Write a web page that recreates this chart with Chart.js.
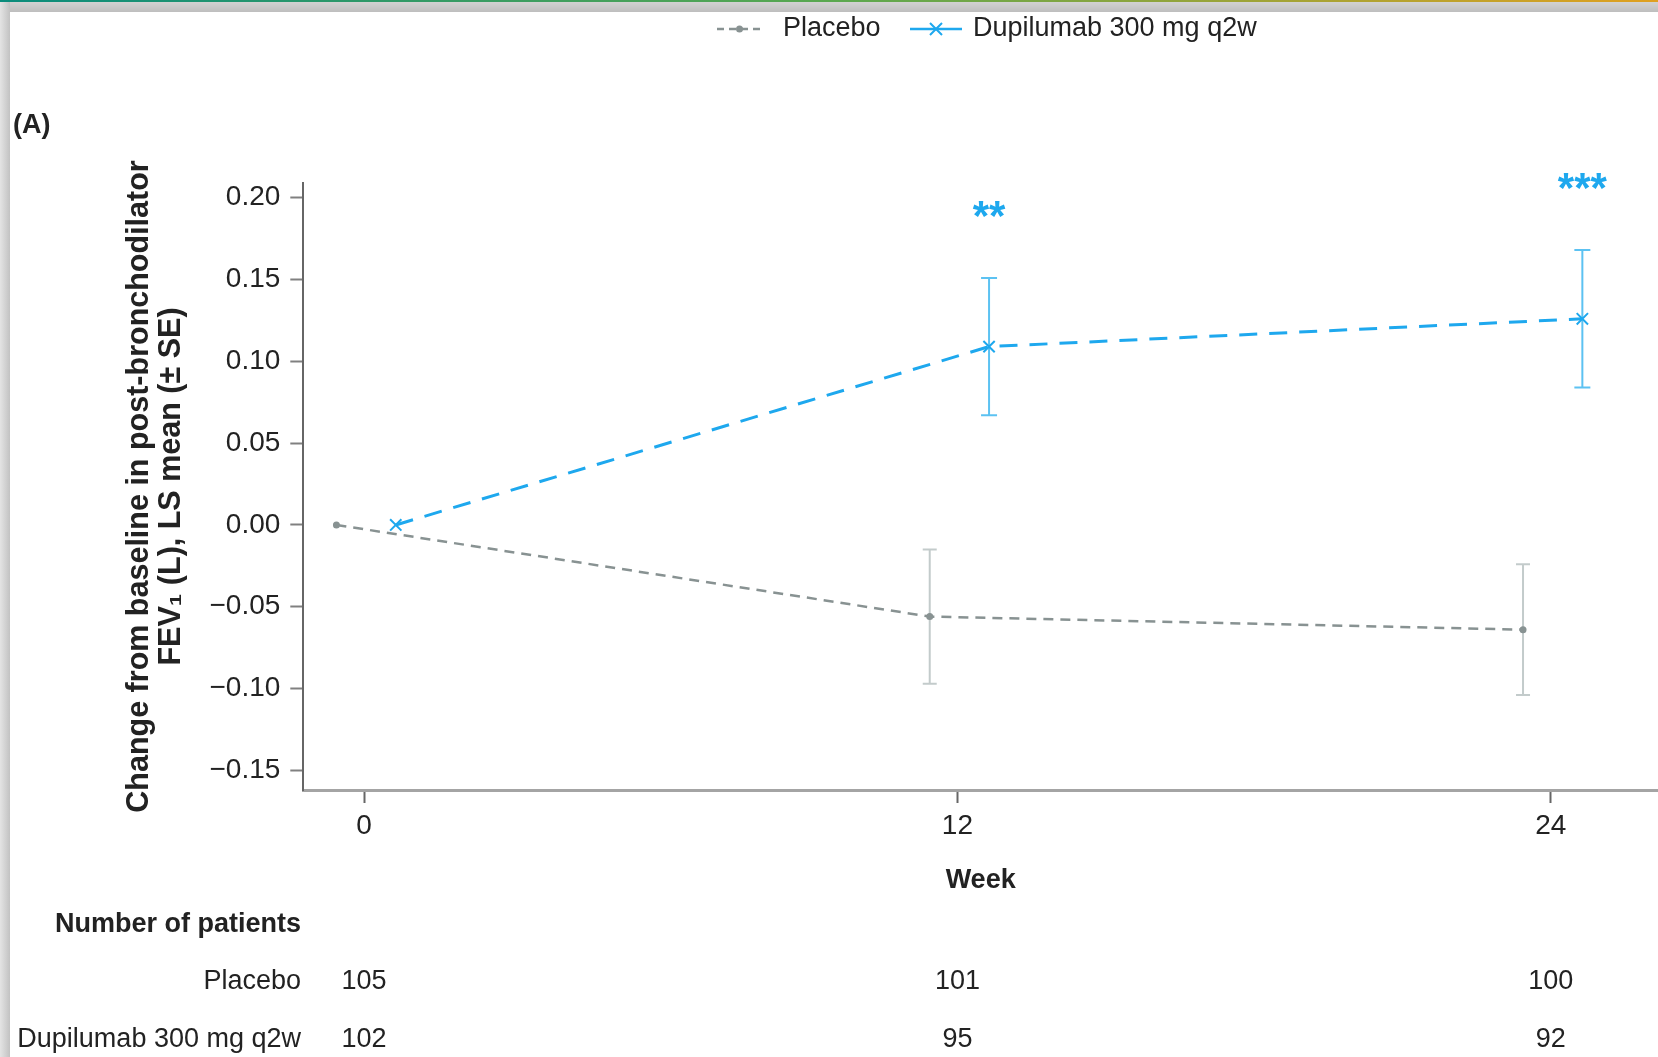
<!DOCTYPE html>
<html>
<head>
<meta charset="utf-8">
<script src="https://cdn.jsdelivr.net/npm/chart.js@4.4.1/dist/chart.umd.min.js"></script>
<style>
html,body{margin:0;padding:0;background:#fff;overflow:hidden;}
#wrap{position:absolute;left:0;top:0;width:1658px;height:1057px;overflow:hidden;background:#fff;}
#topbar{position:absolute;left:0;top:0;width:1658px;height:2px;background:linear-gradient(to right,#0b8c7c,#5aa850 50%,#e0a020);z-index:2;}
#topgray{position:absolute;left:0;top:2px;width:1658px;height:10px;background:linear-gradient(#d2d2d2,#bebebe);z-index:2;}
#leftgray{position:absolute;left:0;top:2px;width:10px;height:1055px;background:linear-gradient(to right,#e4e4e4,#c2c2c2);z-index:2;}
#chartbox{position:absolute;left:0;top:0;width:1668px;height:1057px;}
.lbl{position:absolute;font-family:'Liberation Sans',Arial,sans-serif;font-size:27px;line-height:32px;color:#222;white-space:nowrap;}
.b{font-weight:bold;}
</style>
</head>
<body>
<div id="wrap">
  <div id="topbar"></div>
  <div id="topgray"></div>
  <div id="leftgray"></div>
  <div id="chartbox"><canvas id="c"></canvas></div>
  <div class="lbl b" style="left:13px;top:108px;">(A)</div>
  <div class="lbl b" style="right:1357px;top:907px;text-align:right;">Number of patients</div>
  <div class="lbl" style="right:1357px;top:964px;text-align:right;">Placebo</div>
  <div class="lbl" style="right:1357px;top:1022px;text-align:right;">Dupilumab 300 mg q2w</div>
</div>
<script>
// ---- data ----
const weeks = [0, 12, 24];
const seriesNames = ['Placebo', 'Dupilumab 300 mg q2w'];
const placeboMean = [0.000, -0.056, -0.064];
const placeboSE   = [null, 0.041, 0.040];
const dupiMean    = [0.000, 0.109, 0.126];
const dupiSE      = [null, 0.042, 0.042];
const placeboN = [105, 101, 100];
const dupiN    = [102, 95, 92];
const significance = ['', '**', '***'];
const yTickValues = [-0.15, -0.10, -0.05, 0.00, 0.05, 0.10, 0.15, 0.20];

// ---- styles ----
const FONT = "'Liberation Sans', Arial, sans-serif";
const GREY = '#889292';
const GREY_ERR = '#c3cbcb';
const BLUE = '#1ea8ee';
const BLUE_ERR = '#5cc2f2';
const DODGE = [-0.56, 0.64];

const series = [
  {mean: placeboMean, se: placeboSE, dodge: DODGE[0], err: GREY_ERR, cap: 7},
  {mean: dupiMean, se: dupiSE, dodge: DODGE[1], err: BLUE_ERR, cap: 8}
];

const overlay = {
  id: 'overlay',
  beforeDatasetsDraw(chart) {
    const {ctx, scales: {x, y}} = chart;
    ctx.save();
    ctx.lineWidth = 2;
    series.forEach(s => {
      ctx.strokeStyle = s.err;
      weeks.forEach((w, i) => {
        if (s.se[i] == null) return;
        const px = x.getPixelForValue(w + s.dodge);
        const top = y.getPixelForValue(s.mean[i] + s.se[i]);
        const bot = y.getPixelForValue(s.mean[i] - s.se[i]);
        ctx.beginPath();
        ctx.moveTo(px, top); ctx.lineTo(px, bot);
        ctx.moveTo(px - s.cap, top); ctx.lineTo(px + s.cap, top);
        ctx.moveTo(px - s.cap, bot); ctx.lineTo(px + s.cap, bot);
        ctx.stroke();
      });
    });
    ctx.restore();
  },
  afterDraw(chart) {
    const {ctx, scales: {x, y}} = chart;
    ctx.save();
    // significance stars
    ctx.fillStyle = BLUE;
    ctx.font = 'bold 42px ' + FONT;
    ctx.textAlign = 'center';
    ctx.textBaseline = 'alphabetic';
    weeks.forEach((w, i) => {
      if (!significance[i]) return;
      const px = x.getPixelForValue(w + DODGE[1]);
      const top = y.getPixelForValue(dupiMean[i] + dupiSE[i]);
      ctx.fillText(significance[i], px, top - 72 + 24);
    });
    // number of patients
    ctx.fillStyle = '#222';
    ctx.font = '27px ' + FONT;
    ctx.textBaseline = 'middle';
    weeks.forEach((w, i) => {
      const px = x.getPixelForValue(w);
      ctx.fillText(String(placeboN[i]), px, 982);
      ctx.fillText(String(dupiN[i]), px, 1040);
    });
    // legend
    const ly = 29;
    ctx.lineWidth = 2.5;
    ctx.strokeStyle = GREY;
    ctx.setLineDash([7, 5]);
    ctx.beginPath(); ctx.moveTo(717, ly); ctx.lineTo(762, ly); ctx.stroke();
    ctx.setLineDash([]);
    ctx.fillStyle = GREY;
    ctx.beginPath(); ctx.arc(739.5, ly, 3.5, 0, Math.PI * 2); ctx.fill();
    ctx.strokeStyle = BLUE;
    ctx.lineWidth = 2.5;
    ctx.beginPath(); ctx.moveTo(910, ly); ctx.lineTo(962, ly); ctx.stroke();
    ctx.lineWidth = 2;
    const cx = 936, r = 6;
    ctx.beginPath();
    ctx.moveTo(cx - r, ly - r); ctx.lineTo(cx + r, ly + r);
    ctx.moveTo(cx + r, ly - r); ctx.lineTo(cx - r, ly + r);
    ctx.stroke();
    ctx.fillStyle = '#222';
    ctx.font = '27px ' + FONT;
    ctx.textAlign = 'left';
    ctx.fillText(seriesNames[0], 783, ly);
    ctx.fillText(seriesNames[1], 973, ly);
    ctx.restore();
  }
};

Chart.defaults.font.family = FONT;
Chart.defaults.color = '#222';

new Chart(document.getElementById('c'), {
  type: 'line',
  data: {
    datasets: [
      {
        label: seriesNames[0],
        data: weeks.map((w, i) => ({x: w + DODGE[0], y: placeboMean[i]})),
        borderColor: GREY,
        backgroundColor: GREY,
        borderWidth: 2.5,
        borderDash: [10, 7],
        pointStyle: 'circle',
        pointRadius: 3.5,
        pointBorderWidth: 0,
        tension: 0
      },
      {
        label: seriesNames[1],
        data: weeks.map((w, i) => ({x: w + DODGE[1], y: dupiMean[i]})),
        borderColor: BLUE,
        backgroundColor: BLUE,
        borderWidth: 3,
        borderDash: [18, 12],
        pointStyle: 'crossRot',
        pointRadius: 8,
        pointBorderWidth: 2,
        tension: 0
      }
    ]
  },
  options: {
    responsive: true,
    maintainAspectRatio: false,
    devicePixelRatio: 1,
    animation: false,
    events: [],
    layout: {padding: {top: 183, left: 0, right: 0, bottom: 0}},
    plugins: {legend: {display: false}, tooltip: {enabled: false}},
    scales: {
      x: {
        type: 'linear',
        min: -1.23,
        max: 26.17,
        afterBuildTicks: s => { s.ticks = weeks.map(v => ({value: v})); },
        afterFit: s => { s.height = 267; },
        grid: {drawOnChartArea: false, drawTicks: true, tickLength: 13, tickColor: '#666', tickWidth: 2},
        border: {display: true, color: '#a4a4a4', width: 3},
        ticks: {font: {size: 28}, color: '#222', padding: 6, maxRotation: 0, callback: v => String(v)},
        title: {display: true, text: 'Week', font: {size: 27, weight: 'bold'}, color: '#222', padding: {top: 0, bottom: 160}}
      },
      y: {
        min: -0.162,
        max: 0.209,
        afterBuildTicks: s => { s.ticks = yTickValues.map(v => ({value: v})); },
        afterFit: s => { s.width = 303.3; },
        grid: {drawOnChartArea: false, drawTicks: true, tickLength: 13, tickColor: '#808080', tickWidth: 2},
        border: {display: true, color: '#666', width: 2},
        ticks: {font: {size: 28}, color: '#222', padding: 10,
          callback: v => v.toFixed(2).replace('-', '\u2212')},
        title: {display: true,
          text: ['Change from baseline in post-bronchodilator', 'FEV\u2081 (L), LS mean (\u00b1 SE)'],
          font: {size: 30.5, weight: 'bold', lineHeight: 1.03}, color: '#222',
          padding: {top: 124, bottom: 0}}
      }
    }
  },
  plugins: [overlay]
});
</script>
</body>
</html>
